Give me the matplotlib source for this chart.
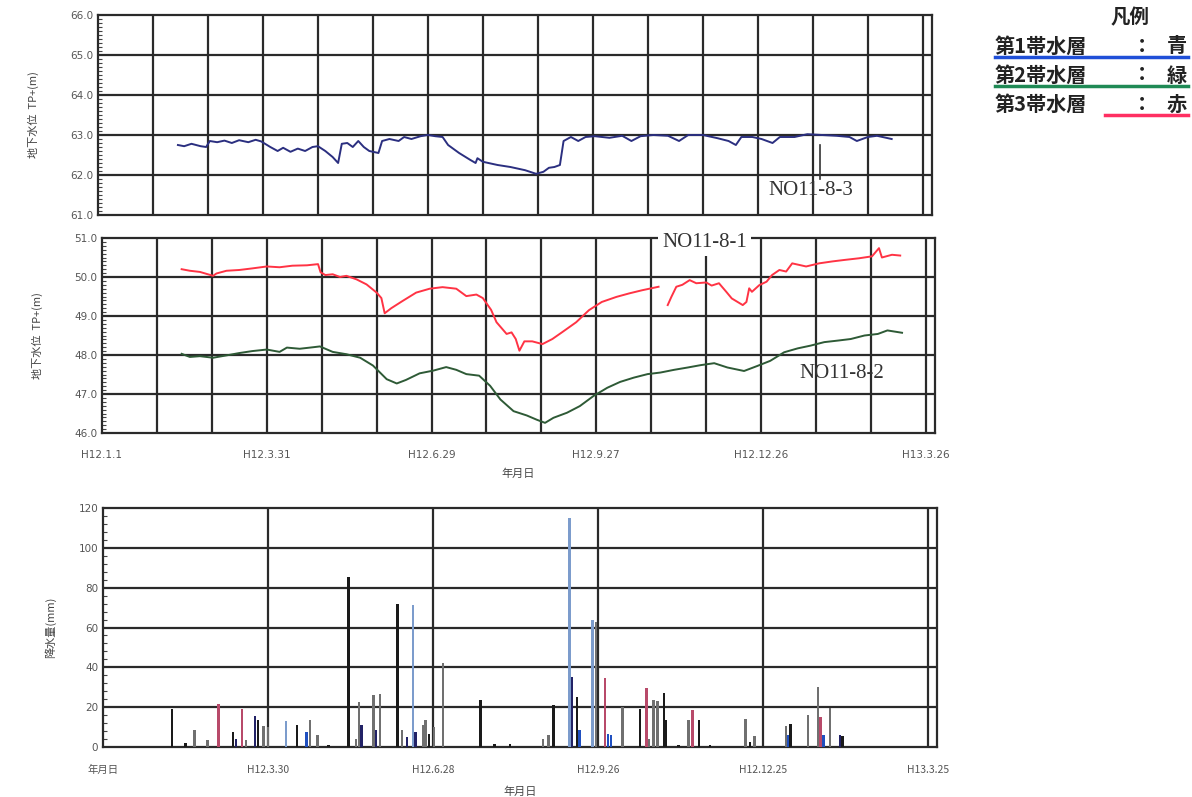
import matplotlib
matplotlib.use("Agg")
import matplotlib.pyplot as plt
from matplotlib.ticker import MultipleLocator

JP = ["Noto Sans CJK JP", "DejaVu Sans"]
plt.rcParams['font.family'] = JP

# ---------------- data ----------------
# days since H12.1.1 (2000-01-01)
top_days = [43.6, 47, 51, 56, 59, 61, 65, 69, 73, 77, 82, 86, 89, 94, 98, 101, 105, 109,
            113, 117, 120, 124, 128, 131, 133, 136, 139, 142, 145, 148, 153, 155, 159, 164,
            167, 171, 176, 180, 184, 188, 191, 197, 203, 206, 207, 210, 218, 225, 233, 239,
            243, 246, 249, 252, 254, 258, 262, 266, 271, 279, 286, 291, 296, 303, 311, 317,
            322, 330, 338, 344, 348, 351, 357, 362, 368, 372, 380, 387, 395, 403, 410, 414,
            420, 425, 433]
top_vals = [62.75, 62.72, 62.78, 62.72, 62.70, 62.85, 62.82, 62.86, 62.80, 62.87, 62.82,
            62.88, 62.84, 62.70, 62.60, 62.68, 62.58, 62.66, 62.60, 62.70, 62.72, 62.60,
            62.45, 62.30, 62.78, 62.80, 62.70, 62.85, 62.70, 62.60, 62.55, 62.85, 62.90,
            62.85, 62.95, 62.90, 62.97, 63.00, 62.97, 62.95, 62.75, 62.55, 62.38, 62.30,
            62.42, 62.33, 62.25, 62.20, 62.12, 62.03, 62.08, 62.18, 62.20, 62.25, 62.85,
            62.95, 62.85, 62.95, 62.97, 62.93, 62.98, 62.85, 62.97, 63.00, 62.98, 62.85,
            63.00, 63.00, 62.92, 62.85, 62.75, 62.95, 62.95, 62.90, 62.80, 62.95, 62.95,
            63.02, 63.00, 62.98, 62.95, 62.85, 62.95, 62.98, 62.90]

red_days1 = [43.5, 48, 53.5, 60.7, 62.5, 68, 75, 82, 90, 97, 104, 112, 118, 119.4, 122, 126,
             130, 133.5, 139, 144.5, 150, 152.6, 154.4, 158, 164, 171.6, 179, 186, 193.5, 199,
             204.5, 208, 212.5, 215.5, 221, 223.7, 226, 228, 230.7, 235, 240.6, 246, 251.5,
             259, 266, 273, 281, 288, 295, 304]
red_vals1 = [50.20, 50.16, 50.13, 50.03, 50.09, 50.16, 50.18, 50.22, 50.27, 50.25, 50.29,
             50.30, 50.33, 50.12, 50.05, 50.07, 50.00, 50.03, 49.94, 49.81, 49.60, 49.46,
             49.07, 49.20, 49.38, 49.60, 49.70, 49.74, 49.70, 49.51, 49.55, 49.46, 49.16,
             48.84, 48.54, 48.58, 48.41, 48.11, 48.35, 48.35, 48.28, 48.41, 48.59, 48.84,
             49.15, 49.36, 49.49, 49.58, 49.66, 49.75]
red_days2 = [309, 311, 313.7, 317, 321, 324.6, 330, 333, 337, 341, 344, 350, 352, 353.5, 355,
             359, 363, 366, 370, 373.7, 377, 384.6, 391.7, 399, 406, 413.5, 420.6, 424.4, 426,
             431.5, 436]
red_vals2 = [49.28, 49.49, 49.75, 49.80, 49.92, 49.84, 49.86, 49.78, 49.84, 49.62, 49.45,
             49.28, 49.36, 49.71, 49.62, 49.79, 49.88, 50.05, 50.18, 50.14, 50.35, 50.27,
             50.35, 50.40, 50.44, 50.48, 50.53, 50.74, 50.50, 50.57, 50.55]

green_days = [43.5, 48, 53.5, 60.7, 68, 75, 82, 90, 97, 101, 108, 115.5, 119, 126, 133.5, 141,
              148, 155.5, 161, 166, 173.5, 181, 188, 193.5, 199, 206, 212, 217.6, 224.8, 232,
              237.5, 242, 246.6, 254, 261, 268.5, 276, 283, 290.5, 298, 305, 312.5, 320, 327,
              334.4, 341.6, 350.7, 358, 365, 372.6, 380, 387, 394.5, 402, 409, 416.5, 423.8,
              429, 437]
green_vals = [48.03, 47.95, 47.97, 47.93, 47.99, 48.05, 48.10, 48.14, 48.08, 48.19, 48.16,
              48.20, 48.22, 48.08, 48.02, 47.93, 47.73, 47.38, 47.27, 47.36, 47.53, 47.60,
              47.69, 47.62, 47.51, 47.47, 47.21, 46.86, 46.56, 46.45, 46.34, 46.26, 46.39,
              46.52, 46.69, 46.95, 47.16, 47.31, 47.42, 47.51, 47.55, 47.62, 47.68, 47.74,
              47.79, 47.68, 47.59, 47.72, 47.85, 48.07, 48.17, 48.24, 48.33, 48.37, 48.41,
              48.50, 48.54, 48.63, 48.57]

# precipitation (mm); station code per bar
rain_days = [37.5, 45, 50, 57, 63, 71, 72.5, 76, 78, 83, 84.5, 87.6, 90, 100, 106, 111, 113,
             117, 123, 134, 138, 139.5, 141, 147.6, 149, 151, 160.7, 163, 166, 169, 170.5,
             174.5, 176, 178, 180.5, 185.5, 206, 213.5, 222, 240, 243, 245.7, 254.5, 256,
             258.7, 260, 267, 269, 274, 275.5, 277, 283.5, 293, 296.5, 298, 300.4, 302.5,
             306, 307, 314, 319.5, 321.6, 325, 331, 350.6, 353, 355.5, 372.5, 374, 375,
             384.5, 390, 391.5, 393, 396.5, 402, 403.5]
rain_vals = [19.3, 2, 8.7, 3.7, 21.8, 7.5, 4, 19.3, 3.7, 15.4, 13.4, 10.4, 10, 12.9, 10.9, 7.5,
             13.4, 5.9, 1, 85.2, 4, 22.6, 10.9, 26, 8.4, 26.5, 71.8, 8.4, 5, 71.3, 7.5, 10.9,
             13.4, 6.7, 10, 42.3, 23.5, 1.3, 1.5, 4, 5.9, 21, 115, 35, 25, 8.4, 63.8, 63,
             34.4, 6.7, 5.9, 20, 19.3, 29.4, 4, 23.8, 23.2, 27.2, 13.4, 1, 13.4, 18.8, 13.8,
             1.2, 14.3, 2.5, 5.4, 10.4, 5.9, 11.7, 16, 30.2, 15, 5.9, 19.8, 6.2, 5.4]
rain_station = ['k', 'k', 'g', 'g', 'r', 'k', 'n', 'r', 'g', 'n', 'k', 'g', 'g', 'l', 'k', 'b',
                'g', 'g', 'k', 'k', 'g', 'g', 'n', 'g', 'n', 'g', 'k', 'g', 'n', 'l', 'n', 'g',
                'g', 'k', 'g', 'g', 'k', 'k', 'k', 'g', 'g', 'k', 'l', 'n', 'k', 'b', 'l', 'g',
                'r', 'b', 'b', 'g', 'k', 'r', 'g', 'g', 'g', 'k', 'k', 'k', 'g', 'r', 'k', 'k',
                'g', 'k', 'g', 'g', 'b', 'k', 'g', 'g', 'r', 'b', 'g', 'n', 'k']

station_colors = {'k': '#1a1a1a', 'n': '#222266', 'b': '#2050c0', 'l': '#7c9ccc',
                  'r': '#b84a6a', 'g': '#707070'}

x_ticks = [0, 90, 180, 270, 360, 450]
mid_xlabels = ["H12.1.1", "H12.3.31", "H12.6.29", "H12.9.27", "H12.12.26", "H13.3.26"]
bot_xlabels = ["年月日", "H12.3.30", "H12.6.28", "H12.9.26", "H12.12.25", "H13.3.25"]
legend_names = ["第1帯水層", "第2帯水層", "第3帯水層"]
legend_words = ["青", "緑", "赤"]
legend_colors = ['#1f4fd8', '#1f8a55', '#ff2f62']

# ---------------- figure ----------------
W, H = 1192, 797
fig = plt.figure(figsize=(W / 100, H / 100), dpi=100)
fig.patch.set_facecolor('white')


def px_axes(l, t, r, b):
    return fig.add_axes([l / W, 1 - b / H, (r - l) / W, (b - t) / H])


GRID = '#2a2a2a'
TICKC = '#555555'


def style_axes(ax):
    for s in ax.spines.values():
        s.set_color(GRID)
        s.set_linewidth(1.6)
    ax.tick_params(axis='both', which='major', length=0, labelsize=7.5, labelcolor=TICKC)
    ax.tick_params(axis='y', which='minor', direction='in', length=3, width=0.8, color='#444')
    ax.set_xlim(0, 455)


def vgrid(ax, step):
    d = step
    while d <= 450:
        ax.axvline(d, color=GRID, lw=1.6, zorder=1)
        d += step


SERIF = ['Liberation Serif']

# ---- top panel ----
ax1 = px_axes(98, 15, 932, 215)
style_axes(ax1)
ax1.set_ylim(61, 66)
ax1.set_yticks([61, 62, 63, 64, 65, 66])
ax1.set_yticklabels(["61.0", "62.0", "63.0", "64.0", "65.0", "66.0"], family=['DejaVu Sans'])
ax1.yaxis.set_minor_locator(MultipleLocator(0.1))
ax1.set_xticks([])
for v in [62, 63, 64, 65]:
    ax1.axhline(v, color=GRID, lw=1.6, zorder=1)
vgrid(ax1, 30)
ax1.plot(top_days, top_vals, color='#2b2f80', lw=1.4, zorder=3)
ax1.plot([394, 394], [62.75, 61.9], color='#333', lw=1.2, zorder=3)
ax1.text(389, 61.62, "NO11-8-3", family=SERIF, fontsize=15, color='#333',
         ha='center', va='center', zorder=4)
ax1.set_ylabel("地下水位  TP+(m)", fontsize=8, color='#444', labelpad=22)

# ---- middle panel ----
ax2 = px_axes(102, 238, 935, 433)
style_axes(ax2)
ax2.set_ylim(46, 51)
ax2.set_yticks([46, 47, 48, 49, 50, 51])
ax2.set_yticklabels(["46.0", "47.0", "48.0", "49.0", "50.0", "51.0"], family=['DejaVu Sans'])
ax2.yaxis.set_minor_locator(MultipleLocator(0.1))
ax2.set_xticks(x_ticks)
ax2.set_xticklabels(mid_xlabels, family=['DejaVu Sans'])
ax2.tick_params(axis='x', pad=12)
for v in [47, 48, 49, 50]:
    ax2.axhline(v, color=GRID, lw=1.6, zorder=1)
vgrid(ax2, 30)
ax2.plot(red_days1, red_vals1, color='#ff3344', lw=1.4, zorder=3)
ax2.plot(red_days2, red_vals2, color='#ff3344', lw=1.4, zorder=3)
ax2.plot(green_days, green_vals, color='#2e5a36', lw=1.4, zorder=3)
ax2.text(329, 50.88, "NO11-8-1", family=SERIF, fontsize=15, color='#333',
         ha='center', va='center', zorder=6, clip_on=False,
         bbox=dict(boxstyle='square,pad=0.2', fc='white', ec='none'))
ax2.text(404, 47.53, "NO11-8-2", family=SERIF, fontsize=15, color='#333',
         ha='center', va='center', zorder=4)
ax2.set_ylabel("地下水位  TP+(m)", fontsize=8, color='#444', labelpad=22)
ax2.set_xlabel("年月日", fontsize=8, color='#444', labelpad=6)

# ---- bottom panel ----
ax3 = px_axes(103, 508, 937, 747)
style_axes(ax3)
ax3.set_ylim(0, 120)
ax3.set_yticks([0, 20, 40, 60, 80, 100, 120])
ax3.set_yticklabels(["0", "20", "40", "60", "80", "100", "120"], family=['DejaVu Sans'])
ax3.yaxis.set_minor_locator(MultipleLocator(4))
ax3.set_xticks(x_ticks)
ax3.set_xticklabels(bot_xlabels)
ax3.tick_params(axis='x', pad=13)
for v in [20, 40, 60, 80, 100]:
    ax3.axhline(v, color=GRID, lw=1.6, zorder=1)
vgrid(ax3, 90)
ax3.bar(rain_days, rain_vals, width=1.3, color=[station_colors[s] for s in rain_station],
        zorder=3)
ax3.set_ylabel("降水量(mm)", fontsize=8, color='#444', labelpad=16)
ax3.set_xlabel("年月日", fontsize=8, color='#444', labelpad=8)

# ---- legend (top right) ----
fig.text(1130 / W, 1 - 18 / H, "凡例", fontsize=14, fontweight='bold', ha='center', va='center',
         color='#222')
for i, (name, word, col) in enumerate(zip(legend_names, legend_words, legend_colors)):
    yc = 46 + i * 29
    fig.text(995 / W, 1 - yc / H, name, fontsize=14.5, fontweight='bold', ha='left',
             va='center', color='#222')
    fig.text(1142 / W, 1 - yc / H, "：", fontsize=14.5, fontweight='bold', ha='center',
             va='center', color='#222')
    fig.text(1177 / W, 1 - yc / H, word, fontsize=14.5, fontweight='bold', ha='center',
             va='center', color='#222')
    x0 = 995 if i < 2 else 1105
    fig.add_artist(plt.Line2D([x0 / W, 1188 / W], [1 - (yc + 11) / H] * 2, color=col, lw=2.5))

fig.savefig("out.png", dpi=100, facecolor='white')
